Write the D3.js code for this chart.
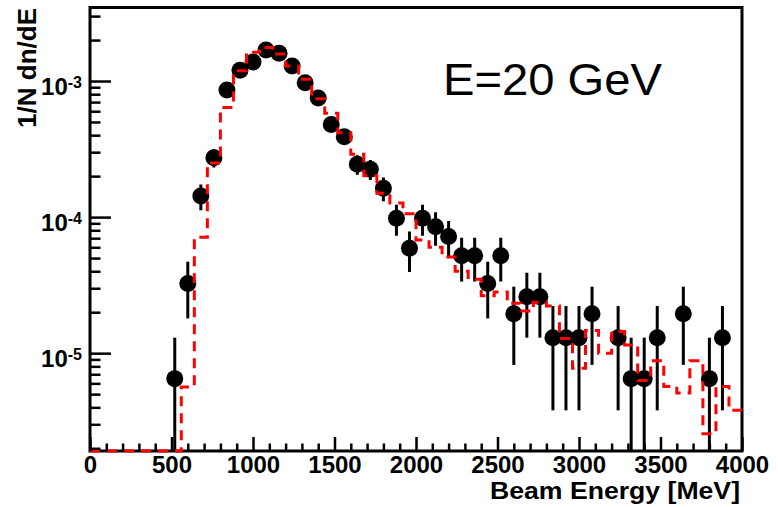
<!DOCTYPE html>
<html>
<head>
<meta charset="utf-8">
<script src="https://cdn.jsdelivr.net/npm/d3@7"></script>
<style>
body { margin: 0; background: #fff; }
text { font-family: "Liberation Sans", Arial, Helvetica, sans-serif; }
</style>
</head>
<body>
<div id="chart"></div>
<script>

// data points (bin centres, MeV)
var dataEnergy = [520, 600, 680, 760, 840, 920, 1000, 1080, 1160, 1240, 1320, 1400, 1480, 1560, 1640, 1720, 1800,
  1880, 1960, 2040, 2120, 2200, 2280, 2360, 2440, 2520, 2600, 2680, 2760, 2840, 2920, 3000, 3080,
  3240, 3320, 3400, 3480, 3640, 3800, 3880];
var dataValue = [6.5e-6, 3.25e-5, 1.43e-4, 2.73e-4, 8.6e-4, 1.2e-3, 1.38e-3, 1.69e-3, 1.6e-3, 1.29e-3, 9.7e-4, 7.5e-4, 4.8e-4, 3.9e-4, 2.45e-4, 2.25e-4, 1.63e-4,
  9.8e-5, 5.9e-5, 9.8e-5, 8.5e-5, 7.2e-5, 5.2e-5, 5.2e-5, 3.25e-5, 5.2e-5, 1.95e-5, 2.6e-5, 2.6e-5, 1.3e-5, 1.3e-5, 1.3e-5, 1.95e-5,
  1.3e-5, 6.5e-6, 6.5e-6, 1.3e-5, 1.95e-5, 6.5e-6, 1.3e-5];
var dataError = [6.5e-6, 1.45e-5, 3.05e-5, 4.2e-5, 7.5e-5, 8.8e-5, 9.5e-5, 1.05e-4, 1.02e-4, 9.1e-5, 7.9e-5, 7.0e-5, 5.6e-5, 5.0e-5, 4.0e-5, 3.8e-5, 3.25e-5,
  2.5e-5, 1.95e-5, 2.5e-5, 2.35e-5, 2.15e-5, 1.84e-5, 1.84e-5, 1.45e-5, 1.84e-5, 1.13e-5, 1.3e-5, 1.3e-5, 9.2e-6, 9.2e-6, 9.2e-6, 1.13e-5,
  9.2e-6, 6.5e-6, 6.5e-6, 9.2e-6, 1.13e-5, 6.5e-6, 9.2e-6];

// simulation histogram, 50 bins of 80 MeV from 0 to 4000
var mcValue = [0, 0, 0, 0, 0, 0, 0, 5.65e-6, 7.1e-5, 2.5e-4,
  6.4e-4, 1.19e-3, 1.63e-3, 1.76e-3, 1.58e-3, 1.29e-3, 1.03e-3, 7.4e-4, 5.8e-4, 4.17e-4,
  2.9e-4, 2.01e-4, 1.5e-4, 1.27e-4, 1.06e-4, 6.8e-5, 6.0e-5, 5.1e-5, 4.0e-5, 3.5e-5,
  2.64e-5, 2.82e-5, 2.33e-5, 2.04e-5, 2.37e-5, 2.22e-5, 1.28e-5, 7.76e-6, 1.47e-5, 1.0e-5,
  1.44e-5, 1.15e-5, 6.3e-6, 8.8e-6, 5.7e-6, 5.1e-6, 8.8e-6, 2.56e-6, 5.7e-6, 3.81e-6];
var binWidth = 80;

var xTicks = [0, 500, 1000, 1500, 2000, 2500, 3000, 3500, 4000];
var yTicks = [1e-5, 1e-4, 1e-3];
var yTickExp = ["-5", "-4", "-3"];

var width = 778, height = 507;
// frame edges (don't use "top" etc, those clash with window globals)
var fL = 90, fR = 742, fT = 7.5, fB = 451;
var yMin = 1.91e-6, yMax = 3.47e-3;

var svg = d3.select("#chart").append("svg")
  .attr("width", width)
  .attr("height", height);

svg.append("rect").attr("width", width).attr("height", height).attr("fill", "#fff");

var x = d3.scaleLinear().domain([0, 4000]).range([fL, fR]);
var y = d3.scaleLog().domain([yMin, yMax]).range([fB, fT]);

function yc(v) { return y(Math.max(v, yMin)); }

// frame first, so the red zero-level line sits on top of the bottom axis
svg.append("rect")
  .attr("x", fL).attr("y", fT)
  .attr("width", fR - fL).attr("height", fB - fT)
  .attr("fill", "none")
  .attr("stroke", "#000")
  .attr("stroke-width", 3);

svg.append("clipPath").attr("id", "frame")
  .append("rect").attr("x", fL).attr("y", fT).attr("width", fR - fL).attr("height", fB - fT + 2);

var plot = svg.append("g").attr("clip-path", "url(#frame)");

// data: error bars then markers
var pts = dataEnergy.map(function(e, i) { return {e: e, v: dataValue[i], err: dataError[i]}; });

plot.selectAll(".err").data(pts).enter().append("line")
  .attr("x1", function(d) { return x(d.e); })
  .attr("x2", function(d) { return x(d.e); })
  .attr("y1", function(d) { return yc(d.v + d.err); })
  .attr("y2", function(d) { return yc(d.v - d.err); })
  .attr("stroke", "#000")
  .attr("stroke-width", 3);

plot.selectAll(".pt").data(pts).enter().append("circle")
  .attr("cx", function(d) { return x(d.e); })
  .attr("cy", function(d) { return yc(d.v); })
  .attr("r", 8.5)
  .attr("fill", "#000");

// MC histogram as dashed red steps, drawn on top
var steps = mcValue.map(function(v, i) { return [i * binWidth, v]; });
steps.push([4000, mcValue[mcValue.length - 1]]);

var stepLine = d3.line()
  .x(function(d) { return x(d[0]); })
  .y(function(d) { return yc(d[1]); })
  .curve(d3.curveStepAfter);

plot.append("path")
  .attr("d", stepLine(steps))
  .attr("fill", "none")
  .attr("stroke", "#ff0000")
  .attr("stroke-width", 3)
  .attr("stroke-dasharray", "10,7");

// x axis: major + minor ticks pointing inward
var minorX = d3.range(0, 4001, 100).filter(function(v) { return v % 500 != 0; });

svg.append("g")
  .attr("transform", "translate(0," + fB + ")")
  .call(d3.axisBottom(x).tickValues(minorX).tickSizeInner(-7.5).tickSizeOuter(0).tickFormat(""))
  .call(function(g) { g.select(".domain").remove(); g.selectAll("line").attr("stroke-width", 2.5); });

var xAxis = svg.append("g")
  .attr("transform", "translate(0," + fB + ")")
  .call(d3.axisBottom(x).tickValues(xTicks).tickSizeInner(-14).tickSizeOuter(0).tickPadding(5).tickFormat(d3.format("d")));
xAxis.select(".domain").remove();
xAxis.selectAll("line").attr("stroke-width", 2.5);
xAxis.selectAll("text")
  .attr("font-family", "'Liberation Sans', Arial, sans-serif")
  .attr("font-size", 24)
  .attr("font-weight", "bold")
  .attr("fill", "#000");

// y axis
var minorY = [];
[1e-6, 1e-5, 1e-4, 1e-3].forEach(function(dec) {
  for (var k = 2; k <= 9; k++) {
    var v = k * dec;
    if (v > yMin && v < yMax) minorY.push(v);
  }
});

svg.append("g")
  .attr("transform", "translate(" + fL + ",0)")
  .call(d3.axisLeft(y).tickValues(minorY).tickSizeInner(-10.5).tickSizeOuter(0).tickFormat(""))
  .call(function(g) { g.select(".domain").remove(); g.selectAll("line").attr("stroke-width", 2.5); });

var yAxis = svg.append("g")
  .attr("transform", "translate(" + fL + ",0)")
  .call(d3.axisLeft(y).tickValues(yTicks).tickSizeInner(-21).tickSizeOuter(0).tickFormat(""));
yAxis.select(".domain").remove();
yAxis.selectAll("line").attr("stroke-width", 2.5);
yAxis.selectAll(".tick text").each(function(d, i) {
  var t = d3.select(this)
    .attr("x", -8)
    .attr("y", 13)
    .attr("dy", null)
    .attr("text-anchor", "end")
    .attr("font-family", "'Liberation Sans', Arial, sans-serif")
    .attr("font-weight", "bold")
    .attr("fill", "#000");
  t.append("tspan").attr("font-size", 24).text("10");
  t.append("tspan").attr("font-size", 16).attr("dy", -7).text(yTickExp[i]);
});

// titles
svg.append("text")
  .attr("x", 740).attr("y", 499)
  .attr("text-anchor", "end")
  .attr("font-size", 24)
  .attr("font-weight", "bold")
  .attr("textLength", 250)
  .attr("lengthAdjust", "spacingAndGlyphs")
  .text("Beam Energy [MeV]");

svg.append("text")
  .attr("transform", "translate(36,8) rotate(-90)")
  .attr("text-anchor", "end")
  .attr("font-size", 25)
  .attr("font-weight", "bold")
  .attr("textLength", 120)
  .attr("lengthAdjust", "spacingAndGlyphs")
  .text("1/N dn/dE");

svg.append("text")
  .attr("x", 443).attr("y", 95)
  .attr("font-size", 44)
  .attr("textLength", 219)
  .attr("lengthAdjust", "spacingAndGlyphs")
  .text("E=20 GeV");

</script>
</body>
</html>
